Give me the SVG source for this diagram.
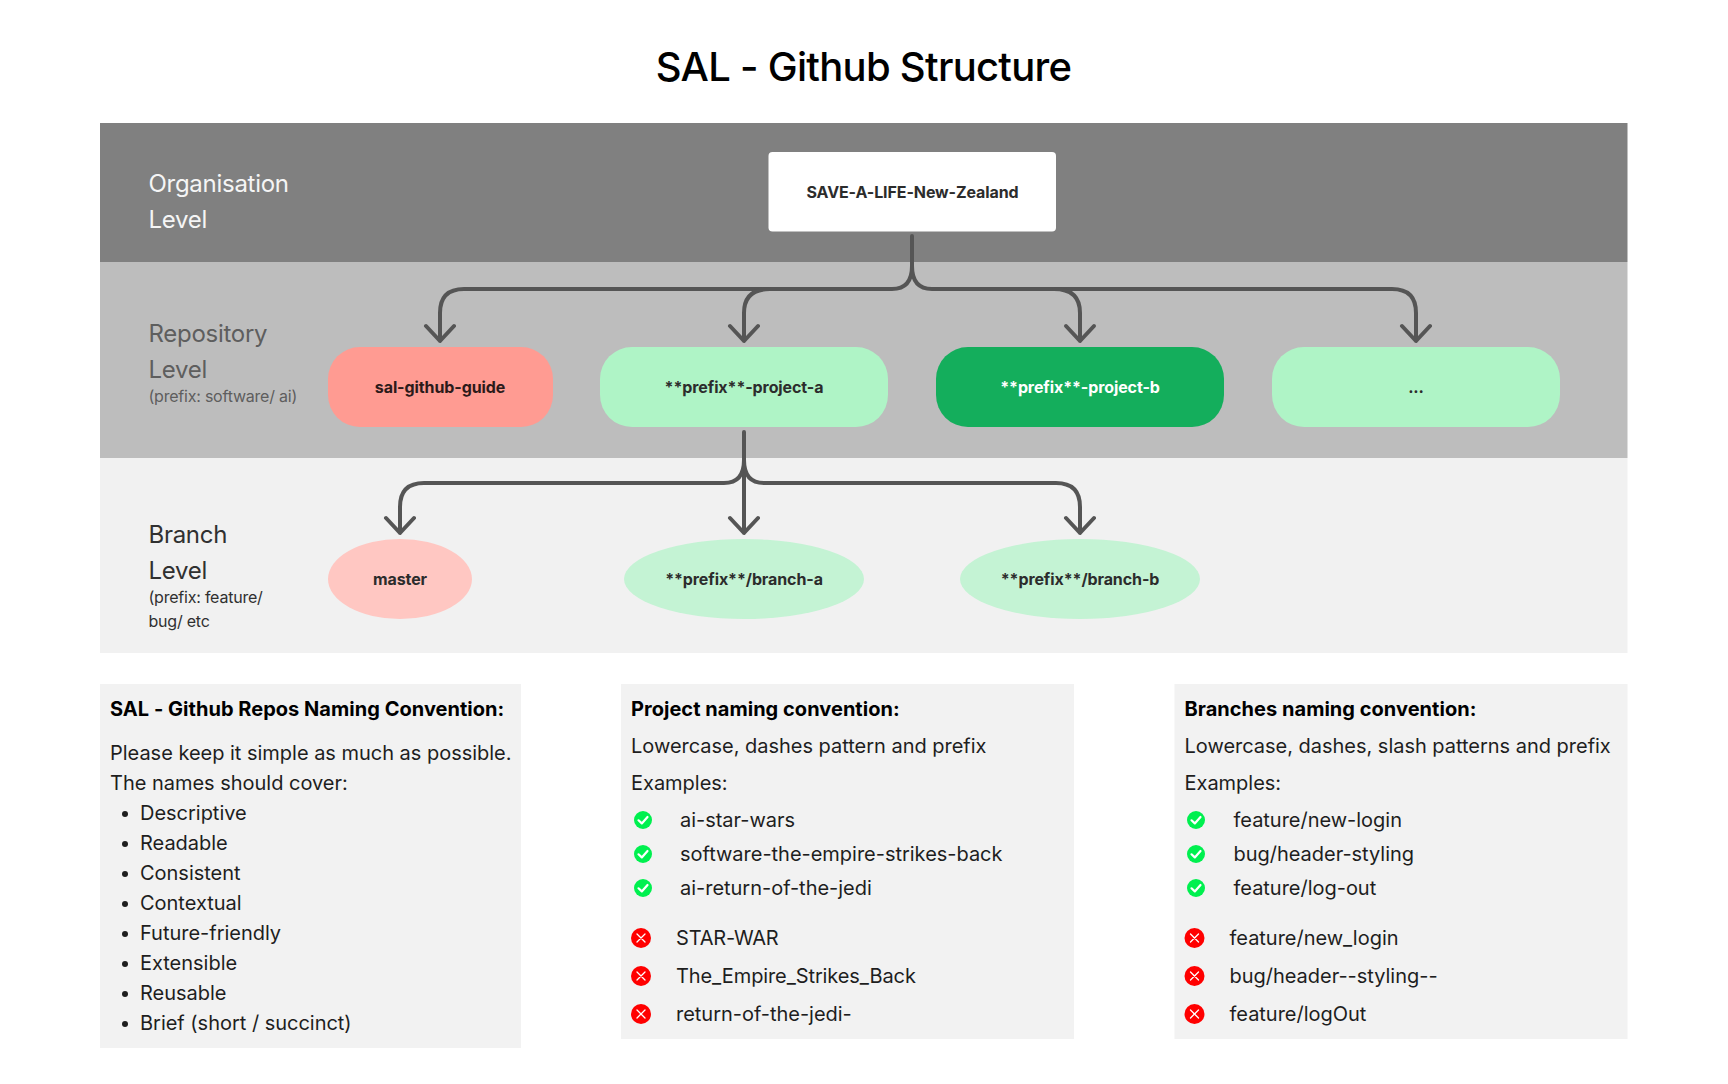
<svg xmlns="http://www.w3.org/2000/svg" width="1728" height="1084" viewBox="0 0 1728 1084">
<style>
text{font-family:Inter,"Noto Sans",sans-serif;fill:#1e1e1e}
.t{font-size:20px;letter-spacing:-0.02px}
.b{font-size:20px;font-weight:700;fill:#000;letter-spacing:0.03px}
.n{font-size:16px;font-weight:700;text-anchor:middle;fill:#2c2c2c;letter-spacing:-0.1px}
.l{font-size:24px;letter-spacing:-0.28px}
.s{font-size:16px;letter-spacing:-0.22px}
.c{fill:none;stroke:#555;stroke-width:4;stroke-linecap:round;stroke-linejoin:round}
.m{fill:none;stroke:#fff;stroke-width:2.2;stroke-linecap:round;stroke-linejoin:round}
.p{fill:#f2f2f2}
</style>
<defs>
<g id="ok"><circle r="9" fill="#00f04f"/><path class="m" d="M-4.500 0.3L-1.200 3.400L4.500 -3"/></g>
<g id="no"><circle r="10" fill="#f00"/><path class="m" style="stroke-width:1.3" d="M-4 -4L4 4M4 -4L-4 4"/></g>
</defs>
<rect width="1728" height="1084" fill="#fff"/>
<text x="863.500" y="81" text-anchor="middle" style="font-size:40px;font-weight:500;fill:#000;letter-spacing:-0.72px">SAL - Github Structure</text>
<g id="bands">
<rect x="100" y="123" width="1527.500" height="139" fill="#808080"/>
<rect x="100" y="262" width="1527.500" height="196" fill="#bdbdbd"/>
<rect x="100" y="458" width="1527.500" height="195" fill="#f1f1f1"/>
</g>
<g id="label-org"><text class="l" x="148.500" y="192" style="fill:#f5f5f5">Organisation</text><text class="l" x="148.500" y="228" style="fill:#f5f5f5">Level</text></g>
<g id="label-repo"><text class="l" x="148.500" y="342" style="fill:#5e5e5e">Repository</text><text class="l" x="148.500" y="378" style="fill:#5e5e5e">Level</text><text class="s" x="148.500" y="402" style="fill:#5e5e5e">(prefix: software/ ai)</text></g>
<g id="label-branch"><text class="l" x="148.500" y="543" style="fill:#303030">Branch</text><text class="l" x="148.500" y="579" style="fill:#303030">Level</text><text class="s" x="148.500" y="603" style="fill:#303030">(prefix: feature/</text><text class="s" x="148.500" y="627" style="fill:#303030">bug/ etc</text></g>
<g id="connectors">
<path class="c" d="M912 236V266Q912 289 892 289H464Q440 289 440 313V341M426 326L440 341L454 326"/>
<path class="c" d="M770 289Q744 289 744 313V341M730 326L744 341L758 326"/>
<path class="c" d="M912 266Q912 289 932 289H1392Q1416 289 1416 313V341M1402 326L1416 341L1430 326"/>
<path class="c" d="M1054 289Q1080 289 1080 313V341M1066 326L1080 341L1094 326"/>
<path class="c" d="M744 432V533M730 518L744 533L758 518"/>
<path class="c" d="M744 460Q744 483 724 483H424Q400 483 400 507V533M386 518L400 533L414 518"/>
<path class="c" d="M744 460Q744 483 764 483H1056Q1080 483 1080 507V533M1066 518L1080 533L1094 518"/>
</g>
<g id="node-org"><rect x="768.500" y="152" width="287.500" height="79.500" rx="4" fill="#fff"/><text class="n" x="912.500" y="198">SAVE-A-LIFE-New-Zealand</text></g>
<g id="node-guide"><rect x="328" y="347" width="225" height="80" rx="32" fill="#ff9b92"/><text class="n" x="440" y="393" style="fill:#2c1a1a">sal-github-guide</text></g>
<g id="node-a"><rect x="600" y="347" width="288" height="80" rx="32" fill="#aff4c6"/><text class="n" x="744" y="393">**prefix**-project-a</text></g>
<g id="node-b"><rect x="936" y="347" width="288" height="80" rx="32" fill="#14ae5c"/><text class="n" x="1080" y="393" style="fill:#fff">**prefix**-project-b</text></g>
<g id="node-more"><rect x="1272" y="347" width="288" height="80" rx="32" fill="#aff4c6"/><text class="n" x="1416" y="393">...</text></g>
<g id="node-master"><ellipse cx="400" cy="579" rx="72" ry="40" fill="#ffc7c2"/><text class="n" x="400" y="585">master</text></g>
<g id="node-branch-a"><ellipse cx="744" cy="579" rx="120" ry="40" fill="#c4f3d4"/><text class="n" x="744" y="585">**prefix**/branch-a</text></g>
<g id="node-branch-b"><ellipse cx="1080" cy="579" rx="120" ry="40" fill="#c4f3d4"/><text class="n" x="1080" y="585">**prefix**/branch-b</text></g>
<g id="panel-repos">
<rect class="p" x="100" y="684" width="421" height="364"/>
<text class="b" x="110" y="716">SAL - Github Repos Naming Convention:</text>
<text class="t" x="110" y="760">Please keep it simple as much as possible.</text>
<text class="t" x="110" y="790">The names should cover:</text>
<g fill="#1e1e1e"><circle cx="125" cy="814" r="3"/><circle cx="125" cy="844" r="3"/><circle cx="125" cy="874" r="3"/><circle cx="125" cy="904" r="3"/><circle cx="125" cy="934" r="3"/><circle cx="125" cy="964" r="3"/><circle cx="125" cy="994" r="3"/><circle cx="125" cy="1024" r="3"/></g>
<text class="t" x="140" y="820">Descriptive</text>
<text class="t" x="140" y="850">Readable</text>
<text class="t" x="140" y="880">Consistent</text>
<text class="t" x="140" y="910">Contextual</text>
<text class="t" x="140" y="940">Future-friendly</text>
<text class="t" x="140" y="970">Extensible</text>
<text class="t" x="140" y="1000">Reusable</text>
<text class="t" x="140" y="1030">Brief (short / succinct)</text>
</g>
<g id="panel-project">
<rect class="p" x="621" y="684" width="453" height="355"/>
<text class="b" x="631" y="716">Project naming convention:</text>
<text class="t" x="631" y="753">Lowercase, dashes pattern and prefix</text>
<text class="t" x="631" y="790">Examples:</text>
<use href="#ok" x="643" y="820"/><use href="#ok" x="643" y="854"/><use href="#ok" x="643" y="888"/>
<text class="t" x="680" y="827">ai-star-wars</text>
<text class="t" x="680" y="861">software-the-empire-strikes-back</text>
<text class="t" x="680" y="895">ai-return-of-the-jedi</text>
<use href="#no" x="641" y="938"/><use href="#no" x="641" y="976"/><use href="#no" x="641" y="1014"/>
<text class="t" x="676" y="945" style="letter-spacing:-0.2px">STAR-WAR</text>
<text class="t" x="676" y="983" style="letter-spacing:-0.1px">The_Empire_Strikes_Back</text>
<text class="t" x="676" y="1021">return-of-the-jedi-</text>
</g>
<g id="panel-branches">
<rect class="p" x="1174.500" y="684" width="453" height="355"/>
<text class="b" x="1184.500" y="716">Branches naming convention:</text>
<text class="t" x="1184.500" y="753">Lowercase, dashes, slash patterns and prefix</text>
<text class="t" x="1184.500" y="790">Examples:</text>
<use href="#ok" x="1196" y="820"/><use href="#ok" x="1196" y="854"/><use href="#ok" x="1196" y="888"/>
<text class="t" x="1233.500" y="827">feature/new-login</text>
<text class="t" x="1233.500" y="861">bug/header-styling</text>
<text class="t" x="1233.500" y="895">feature/log-out</text>
<use href="#no" x="1194.500" y="938"/><use href="#no" x="1194.500" y="976"/><use href="#no" x="1194.500" y="1014"/>
<text class="t" x="1229.500" y="945">feature/new_login</text>
<text class="t" x="1229.500" y="983">bug/header--styling--</text>
<text class="t" x="1229.500" y="1021">feature/logOut</text>
</g>
</svg>
